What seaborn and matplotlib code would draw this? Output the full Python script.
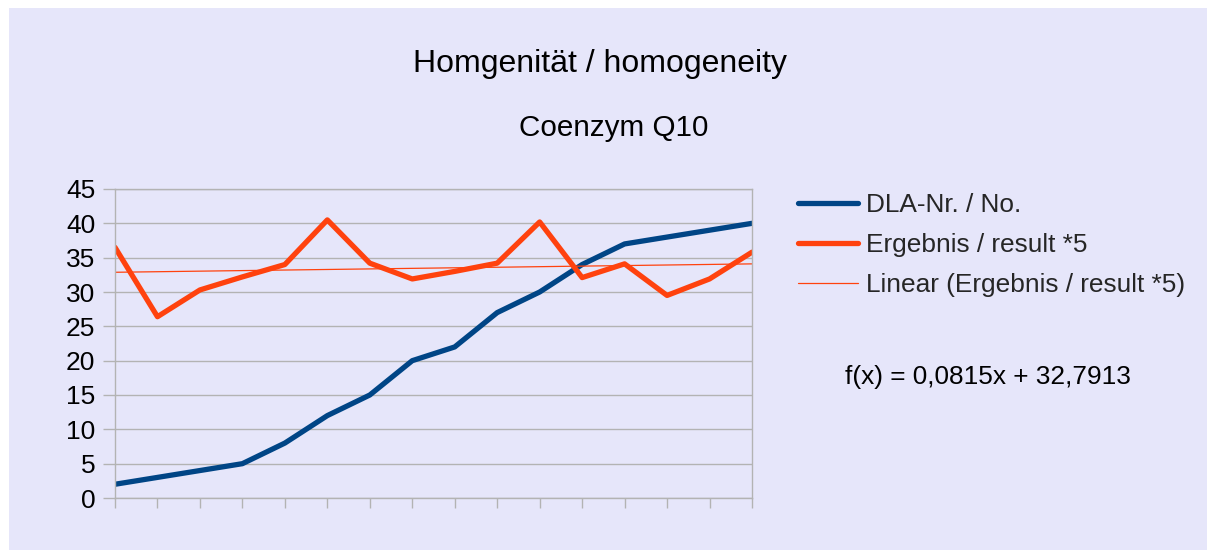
import numpy as np
import pandas as pd
import matplotlib
matplotlib.use("Agg")
import matplotlib.pyplot as plt
import seaborn as sns
from matplotlib.patches import Rectangle

# data
positions = list(range(1, 17))
dla_no = [2, 3, 4, 5, 8, 12, 15, 20, 22, 27, 30, 34, 37, 38, 39, 40]
result_x5 = [36.5, 26.4, 30.3, 32.2, 34.0, 40.5, 34.2, 31.9,
             33.0, 34.2, 40.2, 32.1, 34.1, 29.5, 31.9, 35.8]
trend_slope = 0.0815
trend_intercept = 32.7913

title = "Homgenität / homogeneity"
subtitle = "Coenzym Q10"
labels = ["DLA-Nr. / No.", "Ergebnis / result *5", "Linear (Ergebnis / result *5)"]

bg = "#e6e6fa"
blue = "#004586"
orange = "#ff420e"
grid_col = "#b3b3b3"

sns.set_theme(style="white")
plt.rcParams["font.family"] = ["Liberation Sans", "DejaVu Sans"]

df = pd.DataFrame({"x": positions, "dla": dla_no, "res": result_x5})
df["trend"] = trend_slope * df["x"] + trend_intercept

fig = plt.figure(figsize=(12.07, 5.5), dpi=100)
fig.patch.set_facecolor("white")
fig.patches.append(Rectangle((9 / 1207, 0), 1 - 9 / 1207, 1 - 8 / 550,
                             transform=fig.transFigure, facecolor=bg,
                             edgecolor="none", zorder=-10))

ax = fig.add_axes([115 / 1207, 1 - 498 / 550, (752 - 115) / 1207, (498 - 189) / 550])
ax.set_facecolor(bg)

sns.lineplot(data=df, x="x", y="dla", ax=ax, color=blue, lw=3.8,
             label=labels[0], legend=False)
sns.lineplot(data=df, x="x", y="res", ax=ax, color=orange, lw=3.8,
             label=labels[1], legend=False)
sns.lineplot(data=df, x="x", y="trend", ax=ax, color=orange, lw=0.9,
             label=labels[2], legend=False)

ax.set_xlim(1, 16)
ax.set_ylim(0, 45)
ax.set_yticks(range(0, 46, 5))
ax.set_xticks(positions)
ax.set_xticklabels([])
ax.set_xlabel("")
ax.set_ylabel("")
ax.grid(axis="y", color=grid_col, lw=1)
ax.set_axisbelow(True)
for s in ax.spines.values():
    s.set_color(grid_col)
    s.set_linewidth(1)
ax.tick_params(axis="x", direction="out", length=7.2, width=1, color=grid_col,
               bottom=True)
ax.tick_params(axis="y", direction="out", length=8.6, width=1, color=grid_col,
               left=True, labelsize=19, labelcolor="black", pad=5.5)

fig.text(600 / 1207, 1 - 72 / 550, title, ha="center", va="baseline",
         fontsize=23, color="black")
fig.text(614 / 1207, 1 - 136 / 550, subtitle, ha="center", va="baseline",
         fontsize=21.3, color="black")

handles, labs = ax.get_legend_handles_labels()
fig.legend(handles, labs, loc="upper left", bbox_to_anchor=(787 / 1207, 1 - 183 / 550),
           frameon=False, fontsize=18.9, handlelength=2.3, handletextpad=0.3,
           labelspacing=0.6, borderaxespad=0)

fig.text(845 / 1207, 1 - 384 / 550,
         f"f(x) = {trend_slope:.4f}x + {trend_intercept:.4f}".replace(".", ","),
         ha="left", va="baseline", fontsize=18.9, color="black")

fig.savefig("out.png", dpi=100, facecolor=fig.get_facecolor())
